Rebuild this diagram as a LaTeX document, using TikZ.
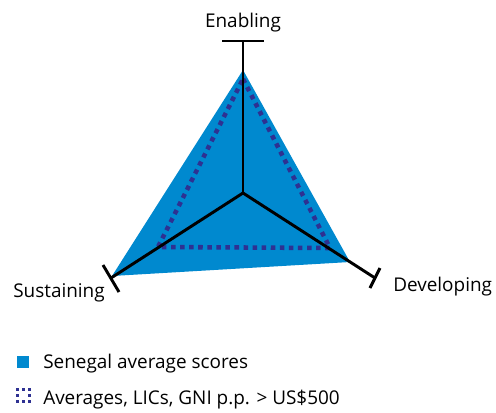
\documentclass[tikz,border=0pt]{standalone}
\usepackage{fontspec}
\setmainfont{Open Sans}
\usetikzlibrary{positioning}
\definecolor{scoreblue}{RGB}{0,137,207}
\definecolor{licblue}{RGB}{46,49,146}

\begin{document}
\begin{tikzpicture}[x=0.75pt,y=-0.75pt]
\tikzstyle{axis}=[line width=2.2pt,black]
\tikzstyle{lbl}=[inner sep=0pt,anchor=base west,font=\fontsize{14.2}{16}\selectfont]
\tikzstyle{lic}=[draw=licblue,line width=3.4pt,dash pattern=on 3.4pt off 3.4pt]
\useasboundingbox (0,0) rectangle (496,412);

\coordinate	(C)	at (243,193);
\coordinate	(En)	at (243,41);
\coordinate	(Su)	at (111,278);
\coordinate	(De)	at (375,278);

% Senegal scores
\fill[scoreblue] (243,70) -- (350,262) -- (112,276) -- cycle;
% LIC averages
\draw[lic] (243,79) -- (330,248) -- (158,247) -- cycle;

\draw[axis] (C) -- (En);
\draw[axis] (C) -- (Su);
\draw[axis] (C) -- (De);
\draw[axis] (222,41) -- (264,41);
\draw[axis] (103,265) -- (119,292);
\draw[axis] (380,268) -- (370,288);

\node[lbl, anchor=base]	(EnL)	at (243,27)	{Enabling};
\node[lbl]	(SuL)	at (13,297)	{Sustaining};
\node[lbl]	(DeL)	at (393,291)	{Developing};

% legend
\fill[scoreblue] (17,356) rectangle (29,368);
\foreach \x/\y in {16/388,22/388,28/388,16/394,28/394,16/400,22/400,28/400}
	\fill[licblue] (\x,\y) rectangle ++(3,3);
\node[lbl]	(SenL)	at (43,368)	{Senegal average scores};
\node[lbl]	(LicL)	at (43,404)	{Averages, LICs, GNI p.p. > US\$500};
\end{tikzpicture}
\end{document}
